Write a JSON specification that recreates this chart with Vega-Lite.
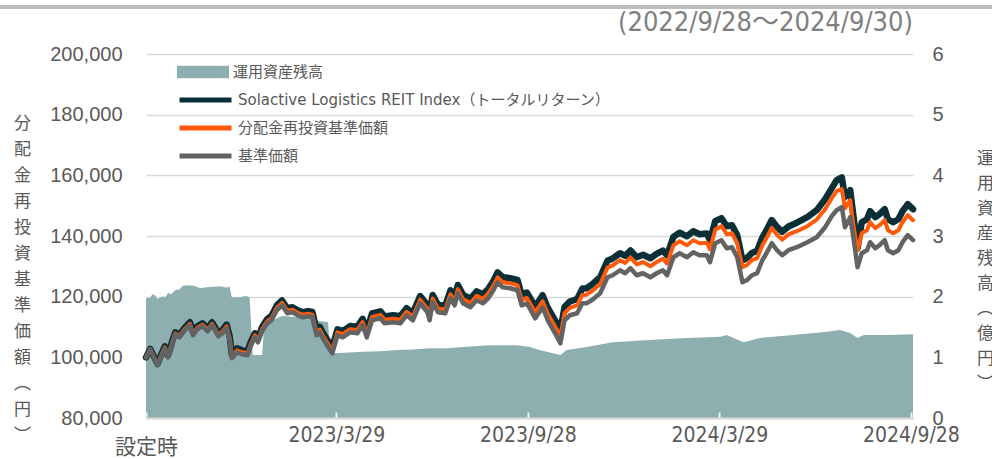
{
  "$schema": "https://vega.github.io/schema/vega-lite/v6.json",
  "width": 767,
  "height": 364,
  "autosize": {"type": "none"},
  "padding": {"left": 146, "top": 54, "right": 79, "bottom": 41},
  "background": "white",
  "title": {
    "text": "(2022/9/28～2024/9/30)",
    "anchor": "end",
    "frame": "group",
    "fontSize": 27,
    "font": "Liberation Sans Narrow, DejaVu Sans Condensed, Noto Sans CJK JP",
    "fontWeight": "normal",
    "color": "#7f7f7f",
    "offset": -32
  },
  "config": {
    "view": {"stroke": null},
    "axis": {"titleFontWeight": "normal"}
  },
  "datasets": {
    "aum": [
      {"date": "2022-09-28", "aum": 1.98},
      {"date": "2022-10-02", "aum": 1.98},
      {"date": "2022-10-04", "aum": 2.04},
      {"date": "2022-10-07", "aum": 2.02},
      {"date": "2022-10-09", "aum": 1.96},
      {"date": "2022-10-13", "aum": 2.0},
      {"date": "2022-10-17", "aum": 2.0},
      {"date": "2022-10-19", "aum": 2.06},
      {"date": "2022-10-22", "aum": 2.04},
      {"date": "2022-10-26", "aum": 2.11},
      {"date": "2022-10-30", "aum": 2.12},
      {"date": "2022-11-02", "aum": 2.18},
      {"date": "2022-11-09", "aum": 2.19},
      {"date": "2022-11-14", "aum": 2.17},
      {"date": "2022-11-19", "aum": 2.14},
      {"date": "2022-11-23", "aum": 2.15},
      {"date": "2022-11-28", "aum": 2.16},
      {"date": "2022-12-08", "aum": 2.17},
      {"date": "2022-12-13", "aum": 2.15},
      {"date": "2022-12-17", "aum": 2.16},
      {"date": "2022-12-19", "aum": 1.99},
      {"date": "2022-12-27", "aum": 1.99},
      {"date": "2023-01-01", "aum": 2.01},
      {"date": "2023-01-05", "aum": 1.99},
      {"date": "2023-01-08", "aum": 1.04},
      {"date": "2023-01-13", "aum": 1.04},
      {"date": "2023-01-17", "aum": 1.04},
      {"date": "2023-01-19", "aum": 1.55},
      {"date": "2023-02-05", "aum": 1.68},
      {"date": "2023-02-22", "aum": 1.66},
      {"date": "2023-03-13", "aum": 1.6},
      {"date": "2023-03-21", "aum": 1.58},
      {"date": "2023-03-23", "aum": 1.07},
      {"date": "2023-04-01", "aum": 1.07},
      {"date": "2023-04-23", "aum": 1.09},
      {"date": "2023-05-10", "aum": 1.1},
      {"date": "2023-05-26", "aum": 1.12},
      {"date": "2023-06-10", "aum": 1.13},
      {"date": "2023-06-26", "aum": 1.15},
      {"date": "2023-07-12", "aum": 1.15},
      {"date": "2023-07-28", "aum": 1.17},
      {"date": "2023-08-23", "aum": 1.2},
      {"date": "2023-09-18", "aum": 1.2},
      {"date": "2023-09-30", "aum": 1.17},
      {"date": "2023-10-09", "aum": 1.12},
      {"date": "2023-10-29", "aum": 1.04},
      {"date": "2023-11-04", "aum": 1.12},
      {"date": "2023-11-23", "aum": 1.17},
      {"date": "2023-12-18", "aum": 1.25},
      {"date": "2024-01-26", "aum": 1.29},
      {"date": "2024-02-27", "aum": 1.32},
      {"date": "2024-03-30", "aum": 1.34},
      {"date": "2024-04-05", "aum": 1.37},
      {"date": "2024-04-21", "aum": 1.25},
      {"date": "2024-05-07", "aum": 1.32},
      {"date": "2024-06-07", "aum": 1.37},
      {"date": "2024-07-10", "aum": 1.42},
      {"date": "2024-07-22", "aum": 1.45},
      {"date": "2024-08-01", "aum": 1.4},
      {"date": "2024-08-08", "aum": 1.32},
      {"date": "2024-08-14", "aum": 1.37},
      {"date": "2024-09-05", "aum": 1.37},
      {"date": "2024-09-30", "aum": 1.38}
    ],
    "lines": [
      {"date": "2022-09-28", "idx": 100000, "reinv": 100000, "nav": 100000},
      {"date": "2022-10-02", "idx": 102800, "reinv": 102740, "nav": 102640},
      {"date": "2022-10-06", "idx": 100000, "reinv": 99840, "nav": 99670},
      {"date": "2022-10-09", "idx": 97860, "reinv": 97600, "nav": 97360},
      {"date": "2022-10-12", "idx": 100500, "reinv": 100250, "nav": 100000},
      {"date": "2022-10-16", "idx": 103630, "reinv": 103300, "nav": 102970},
      {"date": "2022-10-19", "idx": 100660, "reinv": 100330, "nav": 100000},
      {"date": "2022-10-23", "idx": 105280, "reinv": 104950, "nav": 104620},
      {"date": "2022-10-26", "idx": 108250, "reinv": 107920, "nav": 107590},
      {"date": "2022-10-30", "idx": 107420, "reinv": 107010, "nav": 106600},
      {"date": "2022-11-04", "idx": 109730, "reinv": 109320, "nav": 108910},
      {"date": "2022-11-09", "idx": 111550, "reinv": 111060, "nav": 110560},
      {"date": "2022-11-12", "idx": 108250, "reinv": 107760, "nav": 107260},
      {"date": "2022-11-16", "idx": 110230, "reinv": 109740, "nav": 109240},
      {"date": "2022-11-21", "idx": 111220, "reinv": 110720, "nav": 110230},
      {"date": "2022-11-26", "idx": 109570, "reinv": 109080, "nav": 108580},
      {"date": "2022-11-30", "idx": 111550, "reinv": 111060, "nav": 110560},
      {"date": "2022-12-03", "idx": 109900, "reinv": 109400, "nav": 108910},
      {"date": "2022-12-06", "idx": 107920, "reinv": 107420, "nav": 106930},
      {"date": "2022-12-10", "idx": 109000, "reinv": 108450, "nav": 107920},
      {"date": "2022-12-14", "idx": 110800, "reinv": 110200, "nav": 109570},
      {"date": "2022-12-17", "idx": 106900, "reinv": 106250, "nav": 105610},
      {"date": "2022-12-19", "idx": 100990, "reinv": 100330, "nav": 99670},
      {"date": "2022-12-24", "idx": 102970, "reinv": 102310, "nav": 101650},
      {"date": "2022-12-29", "idx": 102310, "reinv": 101650, "nav": 100990},
      {"date": "2023-01-03", "idx": 101980, "reinv": 101320, "nav": 100660},
      {"date": "2023-01-06", "idx": 104950, "reinv": 104290, "nav": 103630},
      {"date": "2023-01-10", "idx": 107920, "reinv": 107260, "nav": 106600},
      {"date": "2023-01-13", "idx": 106270, "reinv": 105610, "nav": 104950},
      {"date": "2023-01-17", "idx": 110000, "reinv": 109300, "nav": 108580},
      {"date": "2023-01-22", "idx": 112700, "reinv": 111960, "nav": 111220},
      {"date": "2023-01-26", "idx": 113700, "reinv": 112950, "nav": 112210},
      {"date": "2023-01-31", "idx": 117100, "reinv": 116300, "nav": 115510},
      {"date": "2023-02-05", "idx": 118750, "reinv": 117950, "nav": 117160},
      {"date": "2023-02-10", "idx": 116180, "reinv": 115350, "nav": 114520},
      {"date": "2023-02-15", "idx": 116500, "reinv": 115680, "nav": 114850},
      {"date": "2023-02-20", "idx": 115510, "reinv": 114690, "nav": 113860},
      {"date": "2023-02-25", "idx": 114850, "reinv": 114030, "nav": 113200},
      {"date": "2023-03-02", "idx": 115250, "reinv": 114400, "nav": 113530},
      {"date": "2023-03-06", "idx": 114950, "reinv": 114080, "nav": 113200},
      {"date": "2023-03-10", "idx": 109050, "reinv": 108150, "nav": 107260},
      {"date": "2023-03-13", "idx": 110050, "reinv": 109150, "nav": 108250},
      {"date": "2023-03-16", "idx": 108100, "reinv": 107180, "nav": 106270},
      {"date": "2023-03-20", "idx": 105900, "reinv": 104930, "nav": 103960},
      {"date": "2023-03-25", "idx": 103300, "reinv": 102310, "nav": 101320},
      {"date": "2023-03-30", "idx": 109240, "reinv": 108250, "nav": 107260},
      {"date": "2023-04-04", "idx": 108650, "reinv": 107620, "nav": 106600},
      {"date": "2023-04-11", "idx": 110300, "reinv": 109270, "nav": 108250},
      {"date": "2023-04-18", "idx": 110050, "reinv": 108990, "nav": 107920},
      {"date": "2023-04-23", "idx": 112700, "reinv": 111620, "nav": 110560},
      {"date": "2023-04-27", "idx": 108800, "reinv": 107700, "nav": 106600},
      {"date": "2023-05-02", "idx": 114450, "reinv": 113330, "nav": 112210},
      {"date": "2023-05-10", "idx": 115150, "reinv": 114010, "nav": 112870},
      {"date": "2023-05-14", "idx": 113500, "reinv": 112360, "nav": 111220},
      {"date": "2023-05-22", "idx": 113860, "reinv": 112700, "nav": 111550},
      {"date": "2023-05-29", "idx": 113530, "reinv": 112380, "nav": 111220},
      {"date": "2023-06-04", "idx": 116200, "reinv": 115030, "nav": 113860},
      {"date": "2023-06-10", "idx": 114580, "reinv": 113400, "nav": 112210},
      {"date": "2023-06-17", "idx": 120200, "reinv": 119010, "nav": 117820},
      {"date": "2023-06-24", "idx": 117250, "reinv": 116050, "nav": 114850},
      {"date": "2023-06-26", "idx": 114620, "reinv": 113420, "nav": 112210},
      {"date": "2023-06-29", "idx": 120570, "reinv": 119360, "nav": 118150},
      {"date": "2023-07-04", "idx": 117290, "reinv": 116070, "nav": 114850},
      {"date": "2023-07-11", "idx": 117000, "reinv": 115770, "nav": 114520},
      {"date": "2023-07-16", "idx": 122110, "reinv": 120790, "nav": 119470},
      {"date": "2023-07-20", "idx": 119860, "reinv": 118510, "nav": 117160},
      {"date": "2023-07-23", "idx": 123850, "reinv": 122480, "nav": 121120},
      {"date": "2023-07-28", "idx": 120600, "reinv": 119210, "nav": 117820},
      {"date": "2023-08-04", "idx": 119350, "reinv": 117920, "nav": 116500},
      {"date": "2023-08-10", "idx": 121740, "reinv": 120270, "nav": 118810},
      {"date": "2023-08-16", "idx": 120820, "reinv": 119320, "nav": 117820},
      {"date": "2023-08-21", "idx": 122500, "reinv": 120990, "nav": 119470},
      {"date": "2023-08-26", "idx": 125200, "reinv": 123650, "nav": 122110},
      {"date": "2023-08-30", "idx": 127970, "reinv": 126360, "nav": 124750},
      {"date": "2023-09-04", "idx": 126400, "reinv": 124750, "nav": 123100},
      {"date": "2023-09-11", "idx": 126100, "reinv": 124440, "nav": 122770},
      {"date": "2023-09-18", "idx": 125500, "reinv": 123800, "nav": 122110},
      {"date": "2023-09-22", "idx": 120610, "reinv": 118880, "nav": 117160},
      {"date": "2023-09-27", "idx": 121340, "reinv": 119580, "nav": 117820},
      {"date": "2023-10-05", "idx": 116700, "reinv": 114790, "nav": 112870},
      {"date": "2023-10-12", "idx": 120460, "reinv": 118480, "nav": 116500},
      {"date": "2023-10-17", "idx": 116300, "reinv": 114250, "nav": 112210},
      {"date": "2023-10-24", "idx": 112150, "reinv": 110120, "nav": 107920},
      {"date": "2023-10-29", "idx": 108910, "reinv": 106930, "nav": 104620},
      {"date": "2023-11-02", "idx": 116600, "reinv": 114580, "nav": 112210},
      {"date": "2023-11-07", "idx": 118400, "reinv": 116300, "nav": 113860},
      {"date": "2023-11-14", "idx": 119200, "reinv": 117100, "nav": 114520},
      {"date": "2023-11-19", "idx": 122660, "reinv": 120560, "nav": 117820},
      {"date": "2023-11-23", "idx": 122780, "reinv": 120650, "nav": 117820},
      {"date": "2023-11-28", "idx": 123950, "reinv": 121780, "nav": 118810},
      {"date": "2023-12-06", "idx": 126400, "reinv": 124090, "nav": 121120},
      {"date": "2023-12-13", "idx": 131840, "reinv": 129570, "nav": 126400},
      {"date": "2023-12-18", "idx": 132600, "reinv": 130300, "nav": 127060},
      {"date": "2023-12-25", "idx": 134320, "reinv": 132010, "nav": 128710},
      {"date": "2023-12-30", "idx": 133440, "reinv": 131130, "nav": 127720},
      {"date": "2024-01-04", "idx": 135200, "reinv": 132870, "nav": 129370},
      {"date": "2024-01-10", "idx": 133000, "reinv": 130650, "nav": 127060},
      {"date": "2024-01-16", "idx": 133800, "reinv": 131400, "nav": 127720},
      {"date": "2024-01-23", "idx": 132670, "reinv": 130030, "nav": 126400},
      {"date": "2024-01-29", "idx": 134100, "reinv": 131420, "nav": 127720},
      {"date": "2024-02-04", "idx": 135200, "reinv": 132500, "nav": 128710},
      {"date": "2024-02-08", "idx": 133650, "reinv": 130900, "nav": 127060},
      {"date": "2024-02-14", "idx": 139700, "reinv": 136900, "nav": 133000},
      {"date": "2024-02-20", "idx": 141100, "reinv": 138280, "nav": 134320},
      {"date": "2024-02-27", "idx": 139900, "reinv": 136960, "nav": 133000},
      {"date": "2024-03-04", "idx": 141580, "reinv": 138610, "nav": 134650},
      {"date": "2024-03-10", "idx": 140590, "reinv": 137620, "nav": 133660},
      {"date": "2024-03-17", "idx": 140800, "reinv": 137800, "nav": 133660},
      {"date": "2024-03-20", "idx": 138600, "reinv": 135600, "nav": 131350},
      {"date": "2024-03-25", "idx": 144900, "reinv": 142100, "nav": 137620},
      {"date": "2024-03-31", "idx": 145870, "reinv": 143230, "nav": 138610},
      {"date": "2024-04-05", "idx": 143230, "reinv": 140590, "nav": 135970},
      {"date": "2024-04-10", "idx": 143560, "reinv": 140920, "nav": 136300},
      {"date": "2024-04-15", "idx": 140260, "reinv": 137620, "nav": 133000},
      {"date": "2024-04-20", "idx": 132010, "reinv": 129700, "nav": 124750},
      {"date": "2024-04-24", "idx": 132670, "reinv": 130360, "nav": 125410},
      {"date": "2024-04-29", "idx": 134420, "reinv": 132010, "nav": 127060},
      {"date": "2024-05-04", "idx": 135110, "reinv": 132670, "nav": 127720},
      {"date": "2024-05-09", "idx": 139500, "reinv": 136960, "nav": 132010},
      {"date": "2024-05-13", "idx": 141900, "reinv": 139300, "nav": 134320},
      {"date": "2024-05-18", "idx": 145250, "reinv": 142650, "nav": 137620},
      {"date": "2024-05-23", "idx": 143000, "reinv": 140400, "nav": 135310},
      {"date": "2024-05-28", "idx": 141400, "reinv": 138800, "nav": 133660},
      {"date": "2024-06-03", "idx": 143150, "reinv": 140500, "nav": 135310},
      {"date": "2024-06-11", "idx": 144380, "reinv": 141580, "nav": 136300},
      {"date": "2024-06-21", "idx": 146200, "reinv": 143230, "nav": 137950},
      {"date": "2024-06-30", "idx": 148500, "reinv": 145400, "nav": 139600},
      {"date": "2024-07-08", "idx": 152140, "reinv": 148840, "nav": 142900},
      {"date": "2024-07-15", "idx": 156100, "reinv": 152800, "nav": 146860},
      {"date": "2024-07-19", "idx": 158400, "reinv": 154780, "nav": 148510},
      {"date": "2024-07-24", "idx": 159300, "reinv": 155440, "nav": 149500},
      {"date": "2024-07-27", "idx": 152800, "reinv": 149170, "nav": 142900},
      {"date": "2024-08-01", "idx": 155110, "reinv": 151810, "nav": 146200},
      {"date": "2024-08-04", "idx": 146860, "reinv": 143560, "nav": 139600},
      {"date": "2024-08-08", "idx": 135970, "reinv": 135310, "nav": 129700},
      {"date": "2024-08-12", "idx": 144550, "reinv": 140920, "nav": 134320},
      {"date": "2024-08-17", "idx": 145540, "reinv": 141910, "nav": 135310},
      {"date": "2024-08-20", "idx": 148180, "reinv": 144550, "nav": 137950},
      {"date": "2024-08-25", "idx": 146200, "reinv": 142570, "nav": 135970},
      {"date": "2024-08-29", "idx": 147190, "reinv": 143560, "nav": 136960},
      {"date": "2024-09-03", "idx": 148840, "reinv": 145210, "nav": 138610},
      {"date": "2024-09-06", "idx": 145540, "reinv": 141910, "nav": 135310},
      {"date": "2024-09-11", "idx": 144550, "reinv": 140920, "nav": 134320},
      {"date": "2024-09-16", "idx": 145540, "reinv": 141910, "nav": 135310},
      {"date": "2024-09-20", "idx": 148180, "reinv": 144550, "nav": 137950},
      {"date": "2024-09-25", "idx": 150490, "reinv": 146860, "nav": 140260},
      {"date": "2024-09-30", "idx": 148840, "reinv": 145210, "nav": 138610}
    ],
    "frame": [
      {"start": "2022-05-10", "end": "2024-12-20", "level": 215500}
    ]
  },
  "layer": [
    {
      "data": {"name": "aum"},
      "mark": {"type": "area", "opacity": 1},
      "encoding": {
        "x": {
          "field": "date",
          "type": "temporal",
          "scale": {"type": "utc", "domain": [{"year": 2022, "month": 9, "date": 28, "utc": true}, {"year": 2024, "month": 9, "date": 30, "utc": true}]},
          "axis": {
            "orient": "bottom",
            "title": null,
            "values": [
              {"year": 2022, "month": 9, "date": 28, "utc": true},
              {"year": 2023, "month": 3, "date": 29, "utc": true},
              {"year": 2023, "month": 9, "date": 28, "utc": true},
              {"year": 2024, "month": 3, "date": 29, "utc": true},
              {"year": 2024, "month": 9, "date": 28, "utc": true}
            ],
            "labelExpr": "datum.index === 0 ? ['', '設定時'] : utcFormat(datum.value, '%Y/%-m/%-d')",
            "labelFont": "Liberation Sans Narrow, DejaVu Sans Condensed, Noto Sans CJK JP",
            "labelFontSize": 21,
            "labelLineHeight": 12,
            "labelPadding": 12,
            "labelColor": "#595959",
            "labelFlush": false,
            "labelOverlap": false,
            "ticks": true,
            "tickSize": -6,
            "tickWidth": 2,
            "tickColor": "#eeeeee",
            "domain": true,
            "domainColor": "#d9d9d9",
            "domainWidth": 2,
            "grid": false,
            "zindex": 1
          }
        },
        "y": {
          "field": "aum",
          "type": "quantitative",
          "scale": {"domain": [0, 6], "nice": false, "zero": true},
          "axis": {
            "orient": "right",
            "values": [0, 1, 2, 3, 4, 5, 6],
            "labelFont": "Liberation Sans, Arial",
            "labelFontSize": 20,
            "labelColor": "#595959",
            "labelPadding": 19,
            "ticks": false,
            "domain": false,
            "grid": false,
            "title": ["運", "用", "資", "産", "残", "高", "︵", "億", "円", "︶"],
            "titleAngle": 0,
            "titleFont": "Noto Sans CJK JP",
            "titleFontSize": 17,
            "titleColor": "#595959",
            "titleLineHeight": 25,
            "titleAlign": "center",
            "titleBaseline": "top",
            "titleX": 72,
            "titleY": 96
          }
        },
        "fill": {
          "datum": "運用資産残高",
          "type": "nominal",
          "scale": {"domain": ["運用資産残高"], "range": ["#8eafb0"]},
          "legend": {
            "orient": "none",
            "legendX": 31,
            "legendY": 4,
            "title": null,
            "symbolType": "M-1,-0.24H1V0.24H-1Z",
            "symbolSize": 2704,
            "symbolStrokeWidth": 0,
            "symbolOpacity": 1,
            "labelFont": "DejaVu Sans, Noto Sans CJK JP",
            "labelFontSize": 15,
            "labelColor": "#595959",
            "labelOffset": 4,
            "labelLimit": 0,
            "clipHeight": 28,
            "rowPadding": 0,
            "padding": 0
          }
        }
      }
    },
    {
      "data": {"name": "lines"},
      "encoding": {
        "x": {"field": "date", "type": "temporal"},
        "y": {
          "type": "quantitative",
          "scale": {"domain": [80000, 200000], "nice": false, "zero": false},
          "axis": {
            "orient": "left",
            "values": [80000, 100000, 120000, 140000, 160000, 180000, 200000],
            "format": ",.0f",
            "labelFont": "Liberation Sans, Arial",
            "labelFontSize": 20,
            "labelColor": "#595959",
            "labelPadding": 24,
            "ticks": false,
            "domain": false,
            "grid": true,
            "gridColor": "#d9d9d9",
            "gridWidth": 1.5,
            "title": ["分", "配", "金", "再", "投", "資", "基", "準", "価", "額", "︵", "円", "︶"],
            "titleAngle": 0,
            "titleFont": "Noto Sans CJK JP",
            "titleFontSize": 17,
            "titleColor": "#595959",
            "titleLineHeight": 26,
            "titleAlign": "center",
            "titleBaseline": "top",
            "titleX": -124,
            "titleY": 61
          }
        },
        "stroke": {
          "field": "series",
          "type": "nominal",
          "scale": {
            "domain": ["Solactive Logistics REIT Index（トータルリターン）", "分配金再投資基準価額", "基準価額"],
            "range": ["#0b2f37", "#ff5a0a", "#636363"]
          },
          "legend": {
            "orient": "none",
            "legendX": 31,
            "legendY": 32,
            "title": null,
            "symbolType": "stroke",
            "symbolSize": 2704,
            "symbolStrokeWidth": 5,
            "symbolOpacity": 1,
            "labelFont": "DejaVu Sans, Noto Sans CJK JP",
            "labelFontSize": 15,
            "labelColor": "#595959",
            "labelOffset": 4,
            "labelLimit": 0,
            "clipHeight": 28,
            "rowPadding": 0,
            "padding": 0
          }
        }
      },
      "layer": [
        {
          "data": {"name": "frame"},
          "mark": {"type": "rule", "clip": false, "strokeWidth": 4, "color": "#bdbdbd"},
          "encoding": {
            "x": {"field": "start", "type": "temporal"},
            "x2": {"field": "end"},
            "y": {"field": "level", "type": "quantitative"},
            "stroke": {"value": "#bdbdbd"}
          }
        },
        {
          "mark": {"type": "line", "strokeWidth": 6.5, "strokeCap": "round", "strokeJoin": "round"},
          "encoding": {
            "y": {"field": "idx", "type": "quantitative"},
            "stroke": {"datum": "Solactive Logistics REIT Index（トータルリターン）", "type": "nominal"}
          }
        },
        {
          "mark": {"type": "line", "strokeWidth": 4, "strokeCap": "round", "strokeJoin": "round"},
          "encoding": {
            "y": {"field": "reinv", "type": "quantitative"},
            "stroke": {"datum": "分配金再投資基準価額", "type": "nominal"}
          }
        },
        {
          "mark": {"type": "line", "strokeWidth": 4.5, "strokeCap": "round", "strokeJoin": "round"},
          "encoding": {
            "y": {"field": "nav", "type": "quantitative"},
            "stroke": {"datum": "基準価額", "type": "nominal"}
          }
        }
      ]
    }
  ],
  "resolve": {"scale": {"y": "independent"}}
}
